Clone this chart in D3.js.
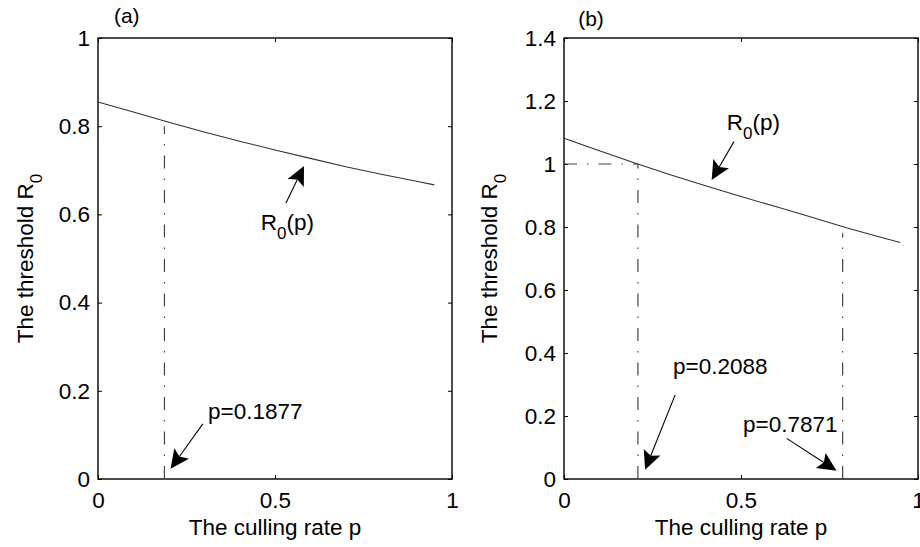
<!DOCTYPE html>
<html>
<head>
<meta charset="utf-8">
<script src="https://cdn.jsdelivr.net/npm/d3@7"></script>
<style>
    body { margin: 0; background: #fff; }
    svg text { font-family: "Liberation Sans", Arial, Helvetica, sans-serif; fill: #000; }
</style>
</head>
<body>
<div id="chart"></div>
<script>
var width = 920,
    height = 547;

// culling rate samples and the threshold R0
var pValues = [0, 0.1, 0.2, 0.3, 0.4, 0.5, 0.6, 0.7, 0.8, 0.9, 0.95];
var r0PanelA = [0.855, 0.832, 0.809, 0.787, 0.766, 0.746, 0.727, 0.708, 0.691, 0.675, 0.667];
var r0PanelB = [1.082, 1.042, 1.003, 0.966, 0.931, 0.897, 0.864, 0.831, 0.797, 0.766, 0.751];

var xTicks = [0, 0.5, 1];
var yTicksA = [0, 0.2, 0.4, 0.6, 0.8, 1];
var yTicksB = [0, 0.2, 0.4, 0.6, 0.8, 1, 1.2, 1.4];

// critical culling rate, height the drop line reaches
var critA = [[0.1877, 0.8]];
var critB = [[0.2088, 1], [0.7871, 0.78]];
// horizontal guide at R0 = 1 in panel (b): from p, to p, level
var guideB = [[0, 0.2088, 1]];

// annotation text: label, p, R0 (data units)
var labelsA = [['R_0(p)', 0.46, 0.565], ['p=0.1877', 0.311, 0.136]];
var labelsB = [['R_0(p)', 0.46, 1.108], ['p=0.2088', 0.308, 0.333], ['p=0.7871', 0.506, 0.15]];

// arrows: from p, from R0, tip p, tip R0
var arrowsA = [[0.531, 0.626, 0.582, 0.710], [0.296, 0.125, 0.205, 0.023]];
var arrowsB = [[0.480, 1.071, 0.417, 0.949], [0.314, 0.267, 0.229, 0.029], [0.629, 0.129, 0.770, 0.026]];

var svg = d3
    .select('#chart')
    .append('svg')
    .attr('width', width)
    .attr('height', height);

function writeLabel(sel, str) {
    // "R_0(p)" -> R, subscript 0, (p)
    var parts = str.split('_');
    sel.text(parts[0]);
    if (parts.length > 1) {
        sel.append('tspan').attr('dy', 9).style('font-size', '17px').text(parts[1][0]);
        sel.append('tspan').attr('dy', -9).text(parts[1].slice(1));
    }
}

function drawPanel(cfg) {
    var w = 354, h = 441;
    var g = svg.append('g').attr('transform', 'translate(' + cfg.left + ',38)');

    var x = d3.scaleLinear().domain([0, 1]).range([0, w]);
    var y = d3.scaleLinear().domain([0, cfg.yMax]).range([h, 0]);
    var fmt = function (d) { return String(+d.toFixed(1)); };

    // axes, ticks pointing inward on all four sides
    g.append('g')
        .attr('transform', 'translate(0,' + h + ')')
        .call(d3.axisBottom(x).tickValues(xTicks).tickSizeInner(-4).tickSizeOuter(0).tickPadding(13).tickFormat(fmt));
    g.append('g')
        .call(d3.axisTop(x).tickValues(xTicks).tickSizeInner(-4).tickSizeOuter(0).tickFormat(''));
    g.append('g')
        .call(d3.axisLeft(y).tickValues(cfg.yTicks).tickSizeInner(-4).tickSizeOuter(0).tickPadding(8).tickFormat(fmt));
    g.append('g')
        .attr('transform', 'translate(' + w + ',0)')
        .call(d3.axisRight(y).tickValues(cfg.yTicks).tickSizeInner(-4).tickSizeOuter(0).tickFormat(''));

    g.selectAll('.domain').remove();
    g.selectAll('.tick line').attr('stroke', '#000').attr('stroke-width', 1);
    g.selectAll('.tick text').style('font-size', '22.5px').attr('fill', '#000');

    g.append('rect')
        .attr('width', w)
        .attr('height', h)
        .attr('fill', 'none')
        .attr('stroke', '#000')
        .attr('stroke-width', 1.4);

    // dash-dot drop lines
    g.selectAll('.crit')
        .data(cfg.crit)
        .enter()
        .append('line')
        .attr('x1', d => x(d[0]))
        .attr('x2', d => x(d[0]))
        .attr('y1', y(0))
        .attr('y2', d => y(d[1]))
        .attr('stroke', '#444')
        .attr('stroke-width', 1.2)
        .attr('stroke-dasharray', '13,10,1.5,10');

    g.selectAll('.guide')
        .data(cfg.guide)
        .enter()
        .append('line')
        .attr('x1', d => x(d[0]))
        .attr('x2', d => x(d[1]))
        .attr('y1', d => y(d[2]))
        .attr('y2', d => y(d[2]))
        .attr('stroke', '#444')
        .attr('stroke-width', 1.2)
        .attr('stroke-dasharray', '13,10,1.5,10');

    // R0(p) curve
    var line = d3.line()
        .x((d, i) => x(pValues[i]))
        .y(d => y(d));
    g.append('path')
        .datum(cfg.values)
        .attr('d', line)
        .attr('fill', 'none')
        .attr('stroke', '#333')
        .attr('stroke-width', 1.1);

    // arrows with filled vback heads
    var L = 19, hw = 9, back = 0.8;
    cfg.arrows.forEach(function (a) {
        var x0 = x(a[0]), y0 = y(a[1]), x1 = x(a[2]), y1 = y(a[3]);
        var ang = Math.atan2(y1 - y0, x1 - x0);
        var nx = x1 - Math.cos(ang) * L * back,
            ny = y1 - Math.sin(ang) * L * back;
        g.append('line')
            .attr('x1', x0).attr('y1', y0)
            .attr('x2', nx).attr('y2', ny)
            .attr('stroke', '#000')
            .attr('stroke-width', 1.1);
        g.append('path')
            .attr('d', 'M0,0L' + (-L) + ',' + (-hw) + 'L' + (-L * back) + ',0L' + (-L) + ',' + hw + 'Z')
            .attr('transform', 'translate(' + x1 + ',' + y1 + ') rotate(' + (ang * 180 / Math.PI) + ')')
            .attr('fill', '#000');
    });

    g.selectAll('.note')
        .data(cfg.labels)
        .enter()
        .append('text')
        .attr('x', d => x(d[1]))
        .attr('y', d => y(d[2]))
        .style('font-size', '22.5px')
        .each(function (d) { writeLabel(d3.select(this), d[0]); });

    // panel tag
    g.append('text')
        .attr('x', x(cfg.tagAt[0]))
        .attr('y', y(cfg.tagAt[1]))
        .style('font-size', '21px')
        .text(cfg.tag);

    // axis titles
    g.append('text')
        .attr('x', w / 2)
        .attr('y', 497)
        .attr('text-anchor', 'middle')
        .style('font-size', '22.5px')
        .text('The culling rate p');

    var yl = g.append('text')
        .attr('transform', 'translate(' + cfg.yLabelX + ',' + (h / 2) + ') rotate(-90)')
        .attr('text-anchor', 'middle')
        .style('font-size', '22.5px');
    writeLabel(yl, 'The threshold R_0');
}

drawPanel({
    left: 98, yMax: 1, yTicks: yTicksA, values: r0PanelA,
    crit: critA, guide: [], labels: labelsA, arrows: arrowsA,
    tag: '(a)', tagAt: [0.045, 1.034], yLabelX: -65
});

drawPanel({
    left: 564, yMax: 1.4, yTicks: yTicksB, values: r0PanelB,
    crit: critB, guide: guideB, labels: labelsB, arrows: arrowsB,
    tag: '(b)', tagAt: [0.04, 1.438], yLabelX: -67
});
</script>
</body>
</html>
